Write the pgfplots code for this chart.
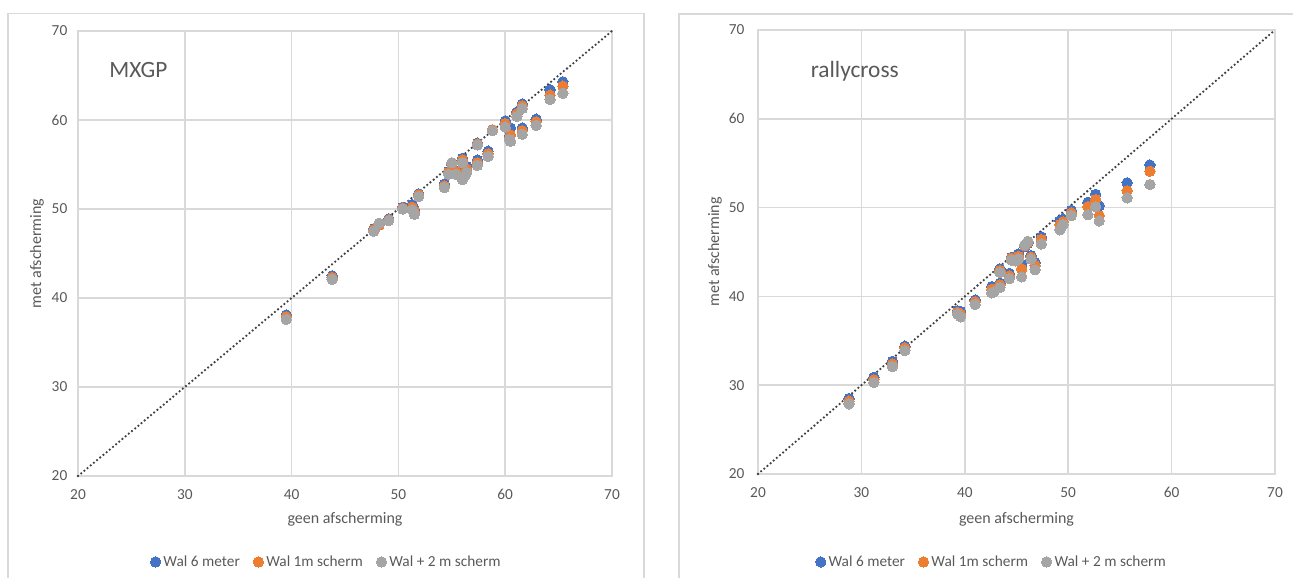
\documentclass[border=0pt]{standalone}
\usepackage{pgfplots}
\pgfplotsset{compat=1.18}
\usepackage{fontspec}
\setmainfont{Carlito}
\definecolor{cblue}{HTML}{4472C4}
\definecolor{corange}{HTML}{ED7D31}
\definecolor{cgray}{HTML}{A5A5A5}
\definecolor{gridgray}{HTML}{D9D9D9}
\definecolor{framegray}{HTML}{D9D9D9}
\definecolor{textgray}{HTML}{595959}
\definecolor{linegray}{HTML}{404040}

\pgfplotstableread{
x b o g
39.5 38.1 37.9 37.6
43.8 42.5 42.3 42.1
47.7 47.8 47.7 47.5
48.2 48.3 48.2 48.4
49.1 48.9 48.8 48.7
50.4 50.2 50.1 50.0
51.3 50.5 50.2 49.9
51.5 49.9 49.7 49.4
51.9 51.7 51.6 51.4
54.3 52.8 52.6 52.4
54.7 54.2 54.1 53.9
55.0 55.0 55.1 55.2
55.4 54.3 54.2 53.9
56.0 55.7 55.5 55.2
56.0 54.0 53.7 53.3
56.4 54.8 54.5 54.1
56.2 54.3 54.0 53.7
57.4 55.5 55.2 54.9
57.4 57.4 57.3 57.2
58.4 56.5 56.2 55.9
58.8 58.9 58.9 58.8
60.0 59.9 59.6 59.2
60.5 59.1 58.3 57.6
60.4 58.2 58.0 57.8
61.1 60.9 60.7 60.4
61.6 61.8 61.6 61.3
61.6 59.1 58.8 58.4
62.9 60.1 59.8 59.4
64.2 63.4 62.8 62.3
65.4 64.3 63.8 63.0
}\mxgp

\pgfplotstableread{
x b o g
28.8 28.5 28.2 27.9
31.2 30.9 30.6 30.3
33.0 32.7 32.4 32.1
34.2 34.4 34.2 33.9
39.3 38.4 38.2 38.0
39.6 38.3 38.0 37.7
41.0 39.6 39.4 39.1
42.6 41.1 40.8 40.4
42.8 41.0 40.7 40.5
43.4 41.5 41.3 41.0
43.4 43.1 42.9 42.7
44.3 42.6 42.3 42.0
44.5 44.4 44.3 44.1
44.9 44.5 44.3 44.0
45.2 44.8 44.5 44.2
45.5 43.6 43.1 42.2
45.8 45.6 45.7 45.8
46.1 46.0 46.1 46.2
46.4 44.6 44.4 44.2
46.8 43.8 43.5 43.0
47.4 46.7 46.4 45.9
49.2 48.5 48.1 47.5
49.5 48.7 48.4 48.1
50.3 49.7 49.4 49.1
51.9 50.6 50.1 49.2
52.65 51.5 50.9 50.1
53.0 50.2 49.1 48.5
55.7 52.8 51.9 51.1
57.9 54.8 54.1 52.6
}\rally

\pgfplotsset{
  mystyle/.style={
    scale only axis,
    xmin=20, xmax=70, ymin=20, ymax=70,
    xtick={20,30,...,70}, ytick={20,30,...,70},
    grid=major,
    grid style={draw=gridgray, line width=1.1pt},
    axis line style={draw=gridgray, line width=1.1pt},
    major tick length=0pt,
    tick label style={font=\fontsize{11.5}{13}\selectfont, text=textgray},
    xticklabel style={yshift=-6.5pt},
    /pgf/number format/assume math mode=true,
    xlabel={geen afscherming}, ylabel={met afscherming},
    label style={font=\fontsize{12}{14}\selectfont, text=textgray},
    legend columns=3,
    legend style={draw=none, fill=none, font=\fontsize{11.5}{13}\selectfont, text=textgray,
      /tikz/every even column/.append style={column sep=8pt}},
    legend cell align=left,
    clip=false,
  },
  sb/.style={only marks, mark=*, mark size=3.9pt, mark options={draw=cblue, fill=cblue, line width=0pt}},
  so/.style={only marks, mark=*, mark size=3.9pt, mark options={draw=corange, fill=corange, line width=0pt}},
  sg/.style={only marks, mark=*, mark size=3.9pt, mark options={draw=cgray, fill=cgray, line width=0pt}},
  diag/.style={forget plot, no marks, color=linegray, line width=1.9pt, line cap=round, dash pattern=on 0pt off 3.1pt},
}

\begin{document}
\begin{tikzpicture}
\useasboundingbox (0pt,0pt) rectangle (969.75pt,-433.5pt);
\draw[framegray, line width=0.9pt] (6pt,-440pt) -- (6pt,-10pt) -- (483pt,-10pt) -- (483pt,-440pt);
\draw[framegray, line width=0.9pt] (509.25pt,-440pt) -- (509.25pt,-10.5pt) -- (975pt,-10.5pt);

\begin{axis}[mystyle, at={(58.5pt,-357pt)}, anchor=south west,
  width=400.5pt, height=333.75pt,
  yticklabel style={xshift=-4.5pt},
  xlabel style={at={(axis description cs:0.5,-0.0966)}, anchor=center},
  ylabel style={at={(axis description cs:-0.0768,0.5)}, anchor=center},
  legend style={at={(axis description cs:0.466,-0.193)}, anchor=center}]
\addplot[sb] table[x=x,y=b] {\mxgp};
\addlegendentry{Wal 6 meter}
\addplot[so] table[x=x,y=o] {\mxgp};
\addlegendentry{Wal 1m scherm}
\addplot[sg] table[x=x,y=g] {\mxgp};
\addlegendentry{Wal + 2 m scherm}
\addplot[diag] coordinates {(20,20) (70,70)};
\node[anchor=west, font=\fontsize{17.5}{20}\selectfont, text=textgray] at (rel axis cs:0.05,0.912) {MXGP};
\end{axis}

\begin{axis}[mystyle, at={(568.5pt,-355.5pt)}, anchor=south west,
  width=387.75pt, height=333pt,
  yticklabel style={xshift=-6.75pt},
  xlabel style={at={(axis description cs:0.5,-0.101)}, anchor=center},
  ylabel style={at={(axis description cs:-0.0832,0.5)}, anchor=center},
  legend style={at={(axis description cs:0.4526,-0.198)}, anchor=center}]
\addplot[sb] table[x=x,y=b] {\rally};
\addlegendentry{Wal 6 meter}
\addplot[so] table[x=x,y=o] {\rally};
\addlegendentry{Wal 1m scherm}
\addplot[sg] table[x=x,y=g] {\rally};
\addlegendentry{Wal + 2 m scherm}
\addplot[diag] coordinates {(20,20) (70,70)};
\node[anchor=west, font=\fontsize{17.5}{20}\selectfont, text=textgray] at (rel axis cs:0.093,0.908) {rallycross};
\end{axis}
\end{tikzpicture}
\end{document}
